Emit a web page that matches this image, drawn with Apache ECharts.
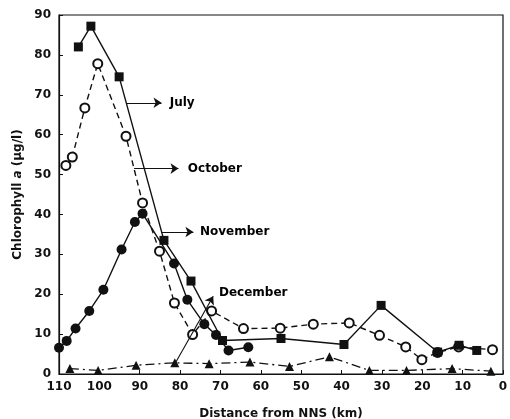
<!DOCTYPE html>
<html>
<head>
<meta charset="utf-8">
<script src="https://cdn.jsdelivr.net/npm/echarts@6/dist/echarts.min.js"></script>
<style>
html,body{margin:0;padding:0;background:#fff;}
#main{width:510px;height:419px;}
</style>
</head>
<body>
<div id="main"></div>
<script>
// ---- Data (distance from NNS in km, chlorophyll a in µg/l) ----
const xTicks = [110, 100, 90, 80, 70, 60, 50, 40, 30, 20, 10, 0];
const yTicks = [0, 10, 20, 30, 40, 50, 60, 70, 80, 90];

const julyKm  = [105.2, 102.1, 95.1, 84.0, 77.3, 69.5, 55.0, 39.4, 30.2, 16.2, 10.9, 6.5];
const julyVal = [82.0, 87.2, 74.5, 33.5, 23.3, 8.4, 8.9, 7.4, 17.2, 5.5, 7.2, 5.9];

const octKm  = [108.3, 106.7, 103.6, 100.4, 93.4, 89.3, 85.1, 81.4, 76.9, 72.2, 64.3, 55.2, 47.0, 38.1, 30.6, 24.1, 20.1, 16.2, 11.0, 2.6];
const octVal = [52.3, 54.4, 66.7, 77.8, 59.6, 42.9, 30.8, 17.8, 9.9, 15.8, 11.4, 11.5, 12.5, 12.8, 9.7, 6.8, 3.6, 5.4, 6.8, 6.1];

const novKm  = [110.0, 108.1, 105.9, 102.5, 99.0, 94.5, 91.2, 89.3, 81.5, 78.2, 74.0, 71.1, 68.0, 63.1];
const novVal = [6.6, 8.3, 11.4, 15.8, 21.1, 31.2, 38.1, 40.2, 27.7, 18.6, 12.5, 9.8, 5.9, 6.7];

const decKm  = [107.3, 100.3, 90.9, 81.3, 72.8, 62.7, 52.9, 43.0, 33.1, 23.9, 12.6, 3.0];
const decVal = [1.35, 0.9, 2.2, 2.8, 2.6, 3.0, 1.9, 4.3, 0.9, 0.9, 1.35, 0.7];

const seriesNames = ['July', 'October', 'November', 'December'];

// annotation arrows (data coordinates): start, end, label anchor
const arrowLabels = ['July', 'October', 'November', 'December'];
const arrowFrom = [[93.2, 68.0], [91.4, 51.5], [84.6, 35.6], [81.1, 2.9]];
const arrowTo   = [[84.6, 68.0], [80.4, 51.5], [76.7, 35.6], [71.8, 19.5]];
const labelAt   = [[82.7, 68.0], [78.2, 51.5], [75.2, 35.6], [70.5, 20.4]];

// ---- Build ----
const zip = (a, b) => a.map((v, i) => [v, b[i]]);
const INK = '#111';
const FONT = 'DejaVu Sans';

const chart = echarts.init(document.getElementById('main'), null, {renderer: 'canvas'});

const arrowData = arrowFrom.map((f, i) => [
  {coord: f, symbol: 'none'},
  {coord: arrowTo[i], symbol: 'arrow'}
]);

const option = {
  animation: false,
  backgroundColor: '#fff',
  grid: {left: 59, right: 7, top: 15, bottom: 45, show: true, borderColor: INK, borderWidth: 1.2,
    containLabel: false, outerBoundsMode: 'none'},
  xAxis: {
    type: 'value', min: 0, max: 110, interval: 10, inverse: true,
    name: 'Distance from NNS (km)', nameLocation: 'middle', nameGap: 34,
    nameTextStyle: {fontFamily: FONT, fontSize: 12, color: INK, fontWeight: 'bold'},
    axisLine: {show: true, onZero: false, lineStyle: {color: INK, width: 1.2}},
    axisTick: {show: true, inside: true, length: 4, lineStyle: {color: INK}},
    axisLabel: {fontFamily: FONT, fontSize: 12, color: INK, fontWeight: 'bold', margin: 7,
      formatter: v => xTicks.includes(v) ? String(v) : ''},
    splitLine: {show: false}
  },
  yAxis: {
    type: 'value', min: 0, max: 90, interval: 10,
    name: 'Chlorophyll {i|a} (µg/l)', nameLocation: 'middle', nameGap: 31,
    nameTextStyle: {fontFamily: FONT, fontSize: 12, color: INK, fontWeight: 'bold',
      rich: {i: {fontFamily: FONT, fontSize: 12, fontStyle: 'italic', color: INK, fontWeight: 'bold'}}},
    axisLine: {show: true, onZero: false, lineStyle: {color: INK, width: 1.2}},
    axisTick: {show: true, inside: true, length: 4, lineStyle: {color: INK}},
    axisLabel: {fontFamily: FONT, fontSize: 12, color: INK, fontWeight: 'bold', margin: 8,
      formatter: v => yTicks.includes(v) ? String(v) : ''},
    splitLine: {show: false}
  },
  series: [
    {
      name: seriesNames[0], type: 'line', data: zip(julyKm, julyVal),
      symbol: 'rect', symbolSize: 9, itemStyle: {color: INK},
      lineStyle: {color: INK, width: 1.4, type: 'solid'}, z: 3
    },
    {
      name: seriesNames[1], type: 'line', data: zip(octKm, octVal),
      symbol: 'emptyCircle', symbolSize: 9, itemStyle: {color: INK, borderColor: INK, borderWidth: 1.3},
      lineStyle: {color: INK, width: 1.4, type: [6, 4]}, z: 2
    },
    {
      name: seriesNames[2], type: 'line', data: zip(novKm, novVal),
      symbol: 'circle', symbolSize: 10, itemStyle: {color: INK},
      lineStyle: {color: INK, width: 1.4, type: 'solid'}, z: 4
    },
    {
      name: seriesNames[3], type: 'line', data: zip(decKm, decVal),
      symbol: 'triangle', symbolSize: 9, itemStyle: {color: INK},
      lineStyle: {color: INK, width: 1.3, type: [9, 4, 2, 4]}, z: 2
    },
    {
      name: 'arrows', type: 'line', data: [], silent: true,
      markLine: {
        silent: true, animation: false, symbolSize: 8,
        lineStyle: {color: INK, width: 1.1, type: 'solid'},
        label: {show: false},
        data: arrowData
      }
    },
    {
      name: 'labels', type: 'scatter', silent: true, symbolSize: 1,
      itemStyle: {color: 'rgba(0,0,0,0)', opacity: 1},
      data: labelAt.map((p, i) => ({value: p, name: arrowLabels[i]})),
      label: {show: true, position: 'right', distance: 0, formatter: '{b}', opacity: 1,
        fontFamily: FONT, fontSize: 12, fontWeight: 'bold', color: '#000'},
      z: 5
    }
  ]
};
chart.setOption(option);
</script>
</body>
</html>
